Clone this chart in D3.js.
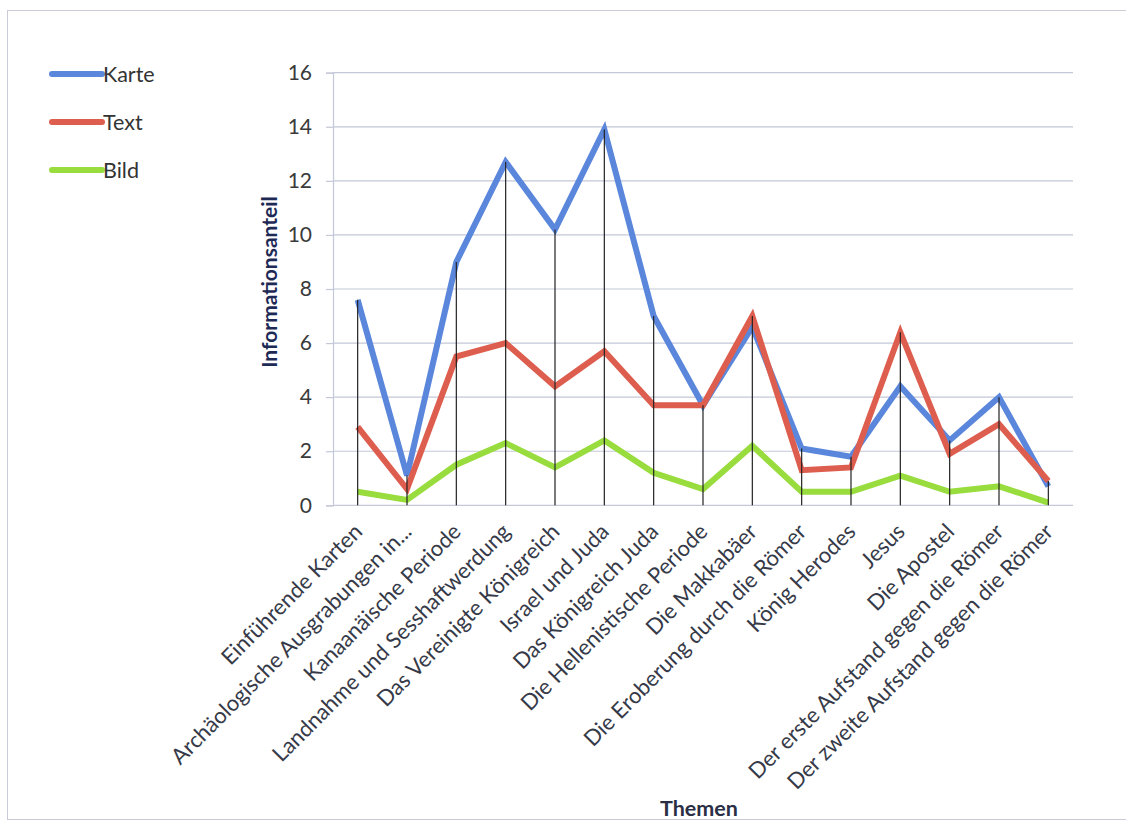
<!DOCTYPE html>
<html>
<head>
<meta charset="utf-8">
<script src="https://cdn.jsdelivr.net/npm/d3@7"></script>
<style>
  html, body { margin: 0; padding: 0; background: #fff; }
  svg { display: block; }
  text { font-family: Lato, "Open Sans", sans-serif; }
</style>
</head>
<body>
<svg id="chart" width="1126" height="822"></svg>
<script>
// Themen (x categories)
const themen = [
  "Einführende Karten",
  "Archäologische Ausgrabungen in...",
  "Kanaanäische Periode",
  "Landnahme und Sesshaftwerdung",
  "Das Vereinigte Königreich",
  "Israel und Juda",
  "Das Königreich Juda",
  "Die Hellenistische Periode",
  "Die Makkabäer",
  "Die Eroberung durch die Römer",
  "König Herodes",
  "Jesus",
  "Die Apostel",
  "Der erste Aufstand gegen die Römer",
  "Der zweite Aufstand gegen die Römer"
];

// Informationsanteil per Thema
const karte = [7.6, 1.1, 9.0, 12.7, 10.2, 13.9, 7.0, 3.7, 6.6, 2.1, 1.8, 4.4, 2.4, 4.0, 0.7];
const text  = [2.9, 0.6, 5.5, 6.0, 4.4, 5.7, 3.7, 3.7, 7.0, 1.3, 1.4, 6.4, 1.9, 3.0, 0.9];
const bild  = [0.5, 0.2, 1.5, 2.3, 1.4, 2.4, 1.2, 0.6, 2.2, 0.5, 0.5, 1.1, 0.5, 0.7, 0.1];

const yTicks = [0, 2, 4, 6, 8, 10, 12, 14, 16];

const series = [
  { name: "Karte", values: karte, color: "#5a86dc" },
  { name: "Text",  values: text,  color: "#dd5e4e" },
  { name: "Bild",  values: bild,  color: "#98dc3e" }
];

const svg = d3.select("#chart");

// outer frame
svg.append("rect")
  .attr("x", 7.5).attr("y", 10.5)
  .attr("width", 1130).attr("height", 809)
  .attr("fill", "none").attr("stroke", "#c9cbd6").attr("stroke-width", 1);

const plot = { left: 333, right: 1073, top: 72.7, bottom: 505.3 };

const x = d3.scaleBand()
  .domain(themen)
  .range([plot.left, plot.right]);

const y = d3.scaleLinear()
  .domain([0, 16])
  .range([plot.bottom, plot.top]);

const cx = d => x(d) + x.bandwidth() / 2;

// horizontal gridlines + y axis
const yAxis = d3.axisLeft(y)
  .tickValues(yTicks)
  .tickSize(7)
  .tickPadding(14)
  .tickFormat(d3.format("d"));

const gy = svg.append("g")
  .attr("transform", `translate(${plot.left},0)`)
  .call(yAxis);
gy.select(".domain").attr("stroke", "#c4c8d8").attr("stroke-width", 1.2);
gy.selectAll(".tick line").attr("stroke", "#c4c8d8").attr("stroke-width", 1.2);
gy.selectAll(".tick text")
  .attr("fill", "#3a3a3a")
  .style("font-size", "21px");

svg.append("g")
  .selectAll("line")
  .data(yTicks)
  .join("line")
  .attr("x1", plot.left).attr("x2", plot.right)
  .attr("y1", d => y(d)).attr("y2", d => y(d))
  .attr("stroke", "#c4c8d8").attr("stroke-width", 1.2);

// series lines
const line = d3.line()
  .x((v, i) => cx(themen[i]))
  .y(v => y(v));

svg.append("g")
  .selectAll("path")
  .data(series)
  .join("path")
  .attr("d", s => line(s.values))
  .attr("fill", "none")
  .attr("stroke", s => s.color)
  .attr("stroke-width", 6)
  .attr("stroke-linejoin", "miter")
  .attr("stroke-miterlimit", 4);

// drop lines from the highest point of each category
svg.append("g")
  .selectAll("line")
  .data(themen)
  .join("line")
  .attr("x1", d => cx(d)).attr("x2", d => cx(d))
  .attr("y1", (d, i) => y(Math.max(karte[i], text[i], bild[i])))
  .attr("y2", y(0))
  .attr("stroke", "#222").attr("stroke-width", 1.2);

// category labels
svg.append("g")
  .selectAll("text")
  .data(themen)
  .join("text")
  .attr("transform", d => `translate(${cx(d) + 6},${533}) rotate(-45)`)
  .attr("text-anchor", "end")
  .attr("fill", "#363a48")
  .style("font-size", "22px")
  .text(d => d);

// axis titles
svg.append("text")
  .attr("transform", `translate(${277},${282}) rotate(-90)`)
  .attr("text-anchor", "middle")
  .attr("fill", "#1e2a56")
  .style("font-size", "21px")
  .style("font-weight", "bold")
  .text("Informationsanteil");

svg.append("text")
  .attr("x", 699).attr("y", 816)
  .attr("text-anchor", "middle")
  .attr("fill", "#2a2f45")
  .style("font-size", "21.5px")
  .style("font-weight", "bold")
  .text("Themen");

// legend
const legend = svg.append("g")
  .selectAll("g")
  .data(series)
  .join("g")
  .attr("transform", (s, i) => `translate(52,${74 + i * 48})`);
legend.append("line")
  .attr("x1", 0).attr("x2", 50)
  .attr("y1", 0).attr("y2", 0)
  .attr("stroke", s => s.color)
  .attr("stroke-width", 6)
  .attr("stroke-linecap", "round");
legend.append("text")
  .attr("x", 51).attr("y", 8)
  .attr("fill", "#333")
  .style("font-size", "21.5px")
  .text(s => s.name);
</script>
</body>
</html>
